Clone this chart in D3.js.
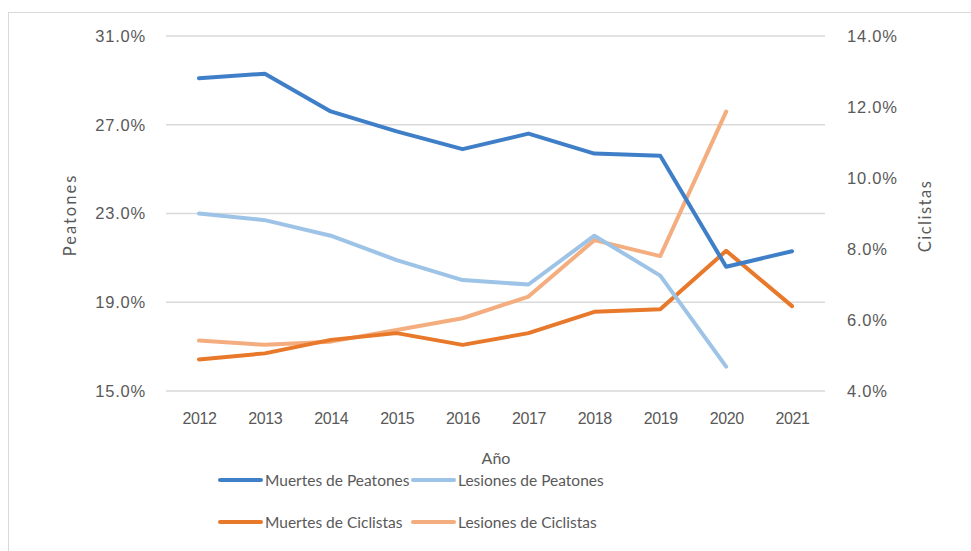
<!DOCTYPE html>
<html><head><meta charset="utf-8">
<script src="https://cdn.jsdelivr.net/npm/d3@7"></script>
<style>body{margin:0;background:#fff;} svg{display:block;font-family:Lato,"Open Sans",sans-serif;}</style>
</head><body>
<svg id="c" width="971" height="551"></svg>
<script>
const years = ["2012","2013","2014","2015","2016","2017","2018","2019","2020","2021"];
const muertesPeatones = [29.1, 29.3, 27.6, 26.7, 25.9, 26.6, 25.7, 25.6, 20.6, 21.3];
const lesionesPeatones = [23.0, 22.7, 22.0, 20.9, 20.0, 19.8, 22.0, 20.2, 16.1, null];
const muertesCiclistas = [4.89, 5.06, 5.44, 5.63, 5.30, 5.63, 6.23, 6.30, 7.95, 6.39];
const lesionesCiclistas = [5.42, 5.30, 5.39, 5.72, 6.05, 6.66, 8.25, 7.80, 11.87, null];
const leftTicks = [15, 19, 23, 27, 31];
const rightTicks = [4, 6, 8, 10, 12, 14];
const seriesNames = ["Muertes de Peatones","Lesiones de Peatones","Muertes de Ciclistas","Lesiones de Ciclistas"];

const svg = d3.select("#c");
const colors = ["#3f7fc8","#9dc3e6","#e8782a","#f4ad7f"];
const textColor = "#595959";

// border
svg.append("rect").attr("x",8.5).attr("y",12.5).attr("width",1000).attr("height",600)
  .attr("fill","none").attr("stroke","#d9d9d9").attr("stroke-width",1);

const x = d3.scalePoint().domain(years).range([166,825]).padding(0.5);
const yL = d3.scaleLinear().domain([15,31]).range([391,36]);
const yR = d3.scaleLinear().domain([4,14]).range([391,36]);

// gridlines
svg.append("g").selectAll("line").data(leftTicks).join("line")
  .attr("x1",166).attr("x2",825).attr("y1",d=>yL(d)).attr("y2",d=>yL(d))
  .attr("stroke","#d9d9d9").attr("stroke-width",1.3);

// left axis
const gl = svg.append("g").attr("transform","translate(160,0)")
  .call(d3.axisLeft(yL).tickValues(leftTicks).tickSize(0).tickPadding(14).tickFormat(d=>d.toFixed(1)+"%"));
gl.select(".domain").remove();
gl.selectAll("text").attr("fill",textColor).style("font-size","16.5px").style("letter-spacing","0.8px");

// right axis
const gr = svg.append("g").attr("transform","translate(833,0)")
  .call(d3.axisRight(yR).tickValues(rightTicks).tickSize(0).tickPadding(14).tickFormat(d=>d.toFixed(1)+"%"));
gr.select(".domain").remove();
gr.selectAll("text").attr("fill",textColor).style("font-size","16.5px").style("letter-spacing","0.8px");

// x axis
const gx = svg.append("g").attr("transform","translate(0,404)")
  .call(d3.axisBottom(x).tickSize(0).tickPadding(9));
gx.select(".domain").remove();
gx.selectAll("text").attr("fill",textColor).style("font-size","16px").style("letter-spacing","-0.4px");

// titles
svg.append("text").attr("x",496).attr("y",457).attr("text-anchor","middle").attr("dominant-baseline","central")
  .attr("fill",textColor).style("font-size","16px").text("Año");
svg.append("text").attr("transform","translate(70,215) rotate(-90)").attr("text-anchor","middle").attr("dominant-baseline","central")
  .attr("fill",textColor).style("font-size","16.5px").style("letter-spacing","2px").text("Peatones");
svg.append("text").attr("transform","translate(925,216) rotate(-90)").attr("text-anchor","middle").attr("dominant-baseline","central")
  .attr("fill",textColor).style("font-size","16.5px").style("letter-spacing","1.5px").text("Ciclistas");

// lines
const series = [
  {vals: muertesPeatones, y: yL},
  {vals: lesionesPeatones, y: yL},
  {vals: muertesCiclistas, y: yR},
  {vals: lesionesCiclistas, y: yR}
];
const drawOrder = [3,2,1,0];
drawOrder.forEach(i=>{
  const s = series[i];
  const line = d3.line().defined(d=>d.v!=null).x(d=>x(d.yr)).y(d=>s.y(d.v));
  svg.append("path").datum(years.map((yr,j)=>({yr, v:s.vals[j]})))
    .attr("d",line).attr("fill","none").attr("stroke",colors[i]).attr("stroke-width",4)
    .attr("stroke-linejoin","round").attr("stroke-linecap","round");
});

// legend
const legPos = [[220,480],[413,480],[220,522],[413,522]];
seriesNames.forEach((n,i)=>{
  const [lx,ly] = legPos[i];
  svg.append("line").attr("x1",lx).attr("x2",lx+41).attr("y1",ly).attr("y2",ly)
    .attr("stroke",colors[i]).attr("stroke-width",4).attr("stroke-linecap","round");
  svg.append("text").attr("x",lx+45).attr("y",ly).attr("dominant-baseline","central")
    .attr("fill",textColor).style("font-size","15.5px").text(n);
});
</script>
</body></html>
